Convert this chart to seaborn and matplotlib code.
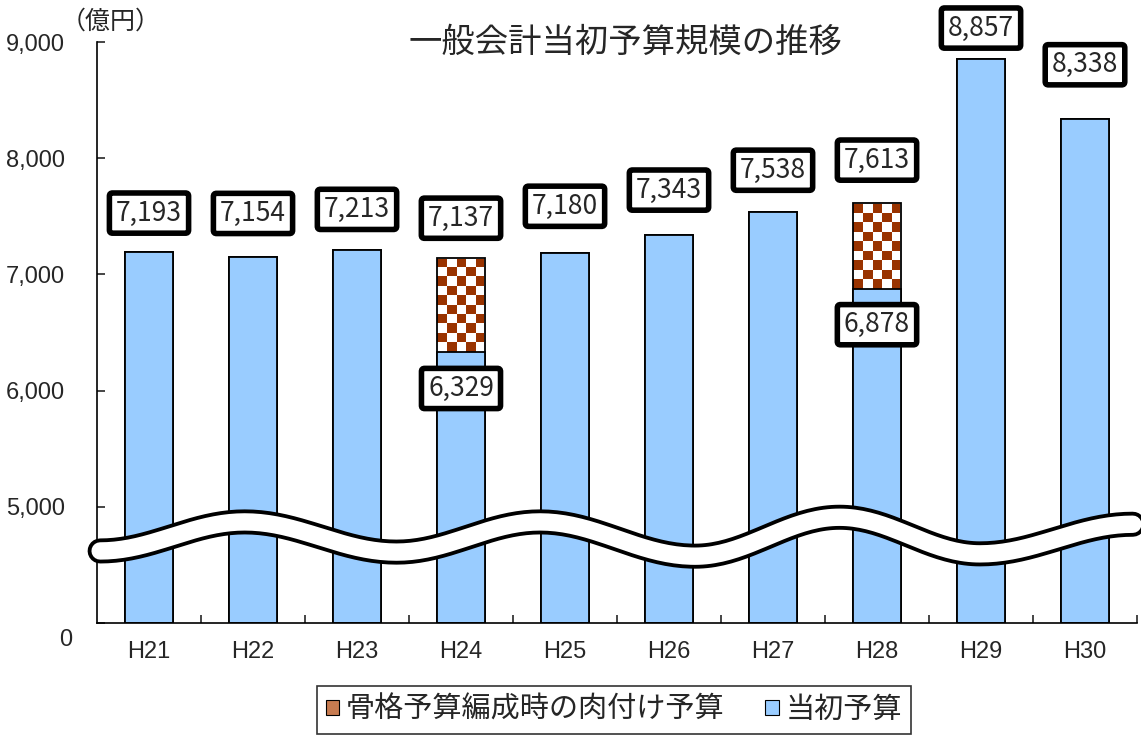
import numpy as np
import pandas as pd
import matplotlib
matplotlib.use('Agg')
import matplotlib.pyplot as plt
import seaborn as sns
from matplotlib.patches import Patch
from matplotlib.colors import ListedColormap
from matplotlib.ticker import FixedLocator, FuncFormatter

years = ['H21', 'H22', 'H23', 'H24', 'H25', 'H26', 'H27', 'H28', 'H29', 'H30']
initial_budget = [7193, 7154, 7213, 6329, 7180, 7343, 7538, 6878, 8857, 8338]
total_budget = [7193, 7154, 7213, 7137, 7180, 7343, 7538, 7613, 8857, 8338]
y_ticks = [0, 5000, 6000, 7000, 8000, 9000]
legend_labels = ['骨格予算編成時の肉付け予算', '当初予算']

# label offsets above bar tops (points), hand placed like in the original
top_offsets = [28, 31, 29, 29, 34, 32, 30, 31, 22, 39]
low_offset = -26

BLUE = '#99CCFF'
BROWN = '#993300'

sns.set_style('white')
plt.rcParams['font.family'] = ['Noto Sans CJK JP', 'DejaVu Sans']


# broken axis: 0-5000 squeezed into the height of 1000
def fwd(v):
    v = np.asarray(v, dtype=float)
    return np.where(v <= 5000, v / 5.0, v - 4000)


def inv(u):
    u = np.asarray(u, dtype=float)
    return np.where(u <= 1000, u * 5.0, u + 4000)


fig = plt.figure(figsize=(11.41, 7.41), dpi=100)
ax = fig.add_axes([97 / 1141, 118 / 741, 1040 / 1141, 581 / 741])
ax.set_yscale('function', functions=(fwd, inv))
ax.set_ylim(0, 9000)

df = pd.DataFrame({'year': years, 'initial': initial_budget, 'total': total_budget})

sns.barplot(data=df, x='year', y='total', color=BROWN, saturation=1, width=0.46,
            edgecolor='black', linewidth=1.3, ax=ax)
total_bars = list(ax.patches)
sns.barplot(data=df, x='year', y='initial', color=BLUE, saturation=1, width=0.46,
            edgecolor='black', linewidth=1.3, ax=ax)
blue_bars = list(ax.patches)[len(total_bars):]

ax.set_xlim(-0.5, 9.5)
ax.set_ylim(0, 9000)

# checkered fill for the supplementary part
checker_cmap = ListedColormap([BROWN, 'white'])
for i, (lo, hi) in enumerate(zip(initial_budget, total_budget)):
    bar = total_bars[i]
    bar.set_facecolor('none')
    bar.set_zorder(2)
    if hi > lo:
        x0 = bar.get_x()
        x1 = x0 + bar.get_width()
        p0 = ax.transData.transform((x0, lo))
        p1 = ax.transData.transform((x1, hi))
        cell = (p1[0] - p0[0]) / 5
        rows = max(1, int(round((p1[1] - p0[1]) / cell)))
        board = np.add.outer(np.arange(rows), np.arange(5)) % 2
        ax.imshow(board, cmap=checker_cmap, extent=(x0, x1, lo, hi), aspect='auto',
                  interpolation='nearest', zorder=1.5)
for b in blue_bars:
    b.set_zorder(2.1)

ax.set_xlim(-0.5, 9.5)
ax.set_ylim(0, 9000)

# axes styling
for s in ['top', 'right']:
    ax.spines[s].set_visible(False)
for s in ['left', 'bottom']:
    ax.spines[s].set_color('black')
    ax.spines[s].set_linewidth(1.2)

ax.yaxis.set_major_locator(FixedLocator(y_ticks))
ax.yaxis.set_major_formatter(FuncFormatter(lambda v, p: '' if v == 0 else f'{int(v):,}'))
ax.tick_params(axis='y', direction='in', length=6, width=1.2, labelsize=17, pad=23, left=True)
ax.set_xticks(range(len(years)))
ax.set_xticklabels(years)
ax.set_xticks(np.arange(0.5, len(years), 1.0), minor=True)
ax.tick_params(axis='x', which='major', length=0, labelsize=17, pad=13)
ax.tick_params(axis='x', which='minor', direction='in', length=6, width=1.2, bottom=True)
for lab in ax.get_xticklabels() + ax.get_yticklabels():
    lab.set_fontfamily('Liberation Sans')
ax.set_xlabel('')
ax.set_ylabel('')
ax.grid(False)

ax.annotate('0', xy=(0, 0), xycoords=ax.get_yaxis_transform(), xytext=(-18, -12),
            textcoords='offset points', ha='right', va='center', fontsize=17,
            family='Liberation Sans', annotation_clip=False)

# wavy break marker across the bars
knots_x = [0.003, 0.142, 0.288, 0.426, 0.575, 0.714, 0.849, 0.996]
knots_y = [0.124, 0.174, 0.122, 0.174, 0.115, 0.182, 0.119, 0.170]
wx, wy = [], []
for k in range(len(knots_x) - 1):
    t = np.linspace(0, 1, 40)
    s = (1 - np.cos(np.pi * t)) / 2
    wx.extend(knots_x[k] + (knots_x[k + 1] - knots_x[k]) * t)
    wy.extend(knots_y[k] + (knots_y[k + 1] - knots_y[k]) * s)
ax.plot(wx, wy, color='black', lw=18, solid_capstyle='round', transform=ax.transAxes,
        clip_on=False, zorder=5)
ax.plot(wx, wy, color='white', lw=12.5, solid_capstyle='round', transform=ax.transAxes,
        clip_on=False, zorder=5.1)

# value labels
box = dict(boxstyle='round,pad=0.25,rounding_size=0.12', fc='white', ec='black', lw=4)
for i, (lo, hi) in enumerate(zip(initial_budget, total_budget)):
    ax.annotate(f'{hi:,}', xy=(i, hi), xytext=(0, top_offsets[i]), textcoords='offset points',
                ha='center', va='center', fontsize=19, bbox=box, zorder=6,
                annotation_clip=False)
    if hi > lo:
        ax.annotate(f'{lo:,}', xy=(i, lo), xytext=(0, low_offset), textcoords='offset points',
                    ha='center', va='center', fontsize=19, bbox=box, zorder=6,
                    annotation_clip=False)

fig.text(625 / 1141, 1 - 42 / 741, '一般会計当初予算規模の推移', ha='center', va='center',
         fontsize=24)
fig.text(111 / 1141, 1 - 22 / 741, '（億円）', ha='center', va='center', fontsize=18)

handles = [Patch(facecolor='#C77B50', edgecolor='black', linewidth=0.8),
           Patch(facecolor=BLUE, edgecolor='black', linewidth=0.8)]
leg = fig.legend(handles, legend_labels, loc='center', bbox_to_anchor=(614 / 1141, 1 - 710 / 741),
                 ncol=2, frameon=True, fancybox=False, fontsize=21, handlelength=0.45,
                 handleheight=0.45, handletextpad=0.25, columnspacing=1.4, borderpad=0.3)
leg.get_frame().set_edgecolor('black')
leg.get_frame().set_linewidth(1.2)

fig.savefig('out.png', dpi=100)
